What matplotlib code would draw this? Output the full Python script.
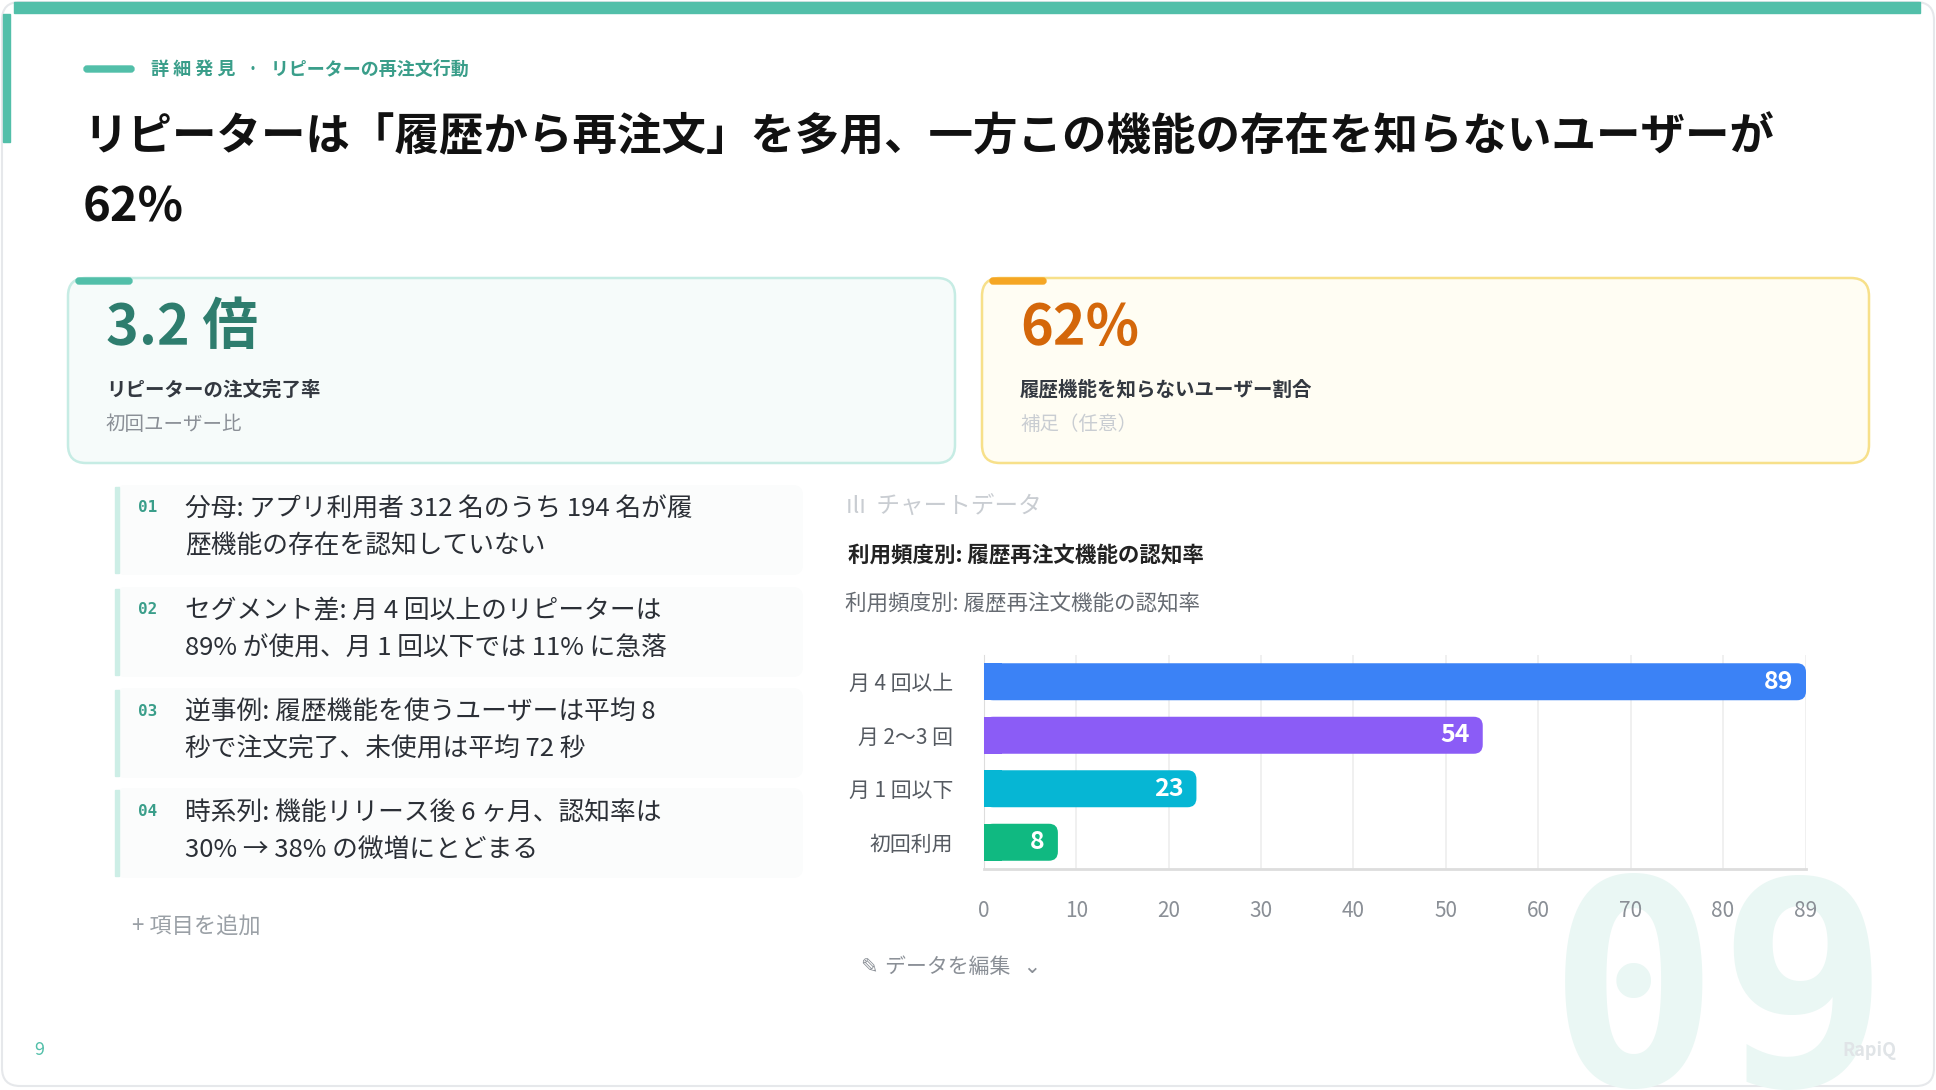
import matplotlib
matplotlib.use("Agg")
import matplotlib.pyplot as plt
from matplotlib.patches import FancyBboxPatch, Rectangle

plt.rcParams['font.family'] = ['Noto Sans CJK JP', 'DejaVu Sans']

# --------------------------------------------------
# Data
# --------------------------------------------------
categories = ["月 4 回以上", "月 2〜3 回", "月 1 回以下", "初回利用"]
values = [89, 54, 23, 8]
bar_colors = ["#3b82f6", "#8b5cf6", "#06b6d4", "#10b981"]
x_ticks = [0, 10, 20, 30, 40, 50, 60, 70, 80, 89]

points = [
    ("01", "分母: アプリ利用者 312 名のうち 194 名が履\n歴機能の存在を認知していない"),
    ("02", "セグメント差: 月 4 回以上のリピーターは\n89% が使用、月 1 回以下では 11% に急落"),
    ("03", "逆事例: 履歴機能を使うユーザーは平均 8\n秒で注文完了、未使用は平均 72 秒"),
    ("04", "時系列: 機能リリース後 6 ヶ月、認知率は\n30% → 38% の微増にとどまる"),
]

W, H = 1936, 1090
TEAL = "#52bfa9"

fig = plt.figure(figsize=(W / 100, H / 100), dpi=100)
bg = fig.add_axes([0, 0, 1, 1])
bg.set_xlim(0, W)
bg.set_ylim(H, 0)
bg.axis("off")

# slide frame
bg.add_patch(FancyBboxPatch((2, 2), W - 4, H - 6, boxstyle="round,pad=0,rounding_size=18",
                            fc="white", ec="#e6e8eb", lw=1.5, zorder=0.2))
bg.add_patch(Rectangle((14, 2), W - 30, 11, color=TEAL))
bg.add_patch(Rectangle((3, 14), 7, 128, color=TEAL))

# big watermark, just above the slide background
bg.text(1548, 1085, "09", fontsize=205, weight="bold", color="#eaf7f4", va="baseline",
        family="DejaVu Sans Mono", zorder=0.5)

# header
bg.add_patch(FancyBboxPatch((84, 66), 50, 6, boxstyle="round,pad=0,rounding_size=3", color=TEAL))
bg.text(151, 69, "詳 細 発 見   ·   リピーターの再注文行動", fontsize=13, weight="bold",
        color="#3a9e8a", va="center")
bg.text(83, 137, "リピーターは「履歴から再注文」を多用、一方この機能の存在を知らないユーザーが",
        fontsize=32, weight="bold", color="#111111", va="center")
bg.text(83, 208, "62%", fontsize=34, weight="bold", color="#111111", va="center")

# KPI cards
cards = [
    (68, "#c6ece4", "#f6fbfa", TEAL, "3.2 倍", "#2e7d6e", "リピーターの注文完了率", "初回ユーザー比", "#8a8f96"),
    (982, "#f7e08a", "#fffdf3", "#f5a623", "62%", "#d4670a", "履歴機能を知らないユーザー割合", "補足（任意）", "#c9cdd2"),
]
for x0, ec, fc, acc, big, bigc, lab, sub, subc in cards:
    bg.add_patch(FancyBboxPatch((x0, 278), 887, 185, boxstyle="round,pad=0,rounding_size=18",
                                fc=fc, ec=ec, lw=1.8))
    bg.add_patch(FancyBboxPatch((x0 + 8, 278), 56, 6, boxstyle="round,pad=0,rounding_size=3", color=acc))
    bg.text(x0 + 38, 328, big, fontsize=40, weight="bold", color=bigc, va="center")
    bg.text(x0 + 38, 390, lab, fontsize=14, weight="bold", color="#333840", va="center")
    bg.text(x0 + 38, 424, sub, fontsize=14, color=subc, va="center")

# numbered list
ys = [485, 587, 688, 788]
for (num, txt), y0 in zip(points, ys):
    bg.add_patch(FancyBboxPatch((115, y0), 688, 90, boxstyle="round,pad=0,rounding_size=10",
                                fc="#fbfcfc", ec="none"))
    bg.add_patch(Rectangle((115, y0 + 2), 4, 86, color="#cdeee6"))
    bg.text(138, y0 + 23, num, fontsize=11.5, weight="bold", color="#3a9e8a", va="center",
            family="DejaVu Sans Mono")
    bg.text(185, y0 + 43, txt, fontsize=18.5, color="#2b2f36", va="center", linespacing=1.55)
bg.text(132, 927, "+ 項目を追加", fontsize=16, color="#9aa0a6", va="center")

# chart header
bg.text(846, 507, "ılı  チャートデータ", fontsize=17, color="#c9cdd2", va="center")
bg.text(848, 556, "利用頻度別: 履歴再注文機能の認知率", fontsize=15.5, weight="bold", color="#222", va="center")
bg.text(845, 603, "利用頻度別: 履歴再注文機能の認知率", fontsize=15.5, color="#666b72", va="center")
bg.text(861, 967, "✎ データを編集  ⌄", fontsize=15, color="#8a8f96", va="center",
        family=["DejaVu Sans", "Noto Sans CJK JP"])

# footer
bg.text(1842, 1050, "RapiQ", fontsize=13, color="#e0e4e7", va="center", weight="bold", zorder=3)
bg.text(34, 1050, "9", fontsize=13, color=TEAL, va="center")

# --------------------------------------------------
# Bar chart
# --------------------------------------------------
ax = fig.add_axes([984 / W, 1 - 869 / H, (1806 - 984) / W, (869 - 655) / H])
ax.set_facecolor("none")
ax.set_xlim(0, 89)
ax.set_ylim(3.5, -0.5)
px_x = 89 / (1806 - 984)
px_y = 4 / (869 - 655)
bh = 37 * px_y
for i, (v, c) in enumerate(zip(values, bar_colors)):
    ax.add_patch(FancyBboxPatch((0, i - bh / 2), v, bh, boxstyle=f"round,pad=0,rounding_size={9 * px_x}",
                                mutation_aspect=px_y / px_x, fc=c, ec="none", zorder=3))
    ax.add_patch(Rectangle((0, i - bh / 2), min(v, 2), bh, fc=c, ec="none", zorder=3))
    ax.text(v - 1.4, i, str(v), ha="right", va="center", color="white", fontsize=18,
            weight="bold", zorder=4)
ax.set_yticks(range(len(categories)))
ax.set_yticklabels(categories, fontsize=15, color="#555a61")
ax.set_xticks(x_ticks)
ax.set_xticklabels([str(t) for t in x_ticks], fontsize=15, color="#8a8f96")
ax.grid(axis="x", color="#eeeeee", lw=1.2, zorder=0)
for s in ["top", "right"]:
    ax.spines[s].set_visible(False)
ax.spines["left"].set_color("#dddddd")
ax.spines["bottom"].set_color("#dddddd")
ax.spines["bottom"].set_linewidth(2)
ax.tick_params(axis="x", length=0, pad=22)
ax.tick_params(axis="y", length=0, pad=22)

fig.savefig("out.png", dpi=100)
